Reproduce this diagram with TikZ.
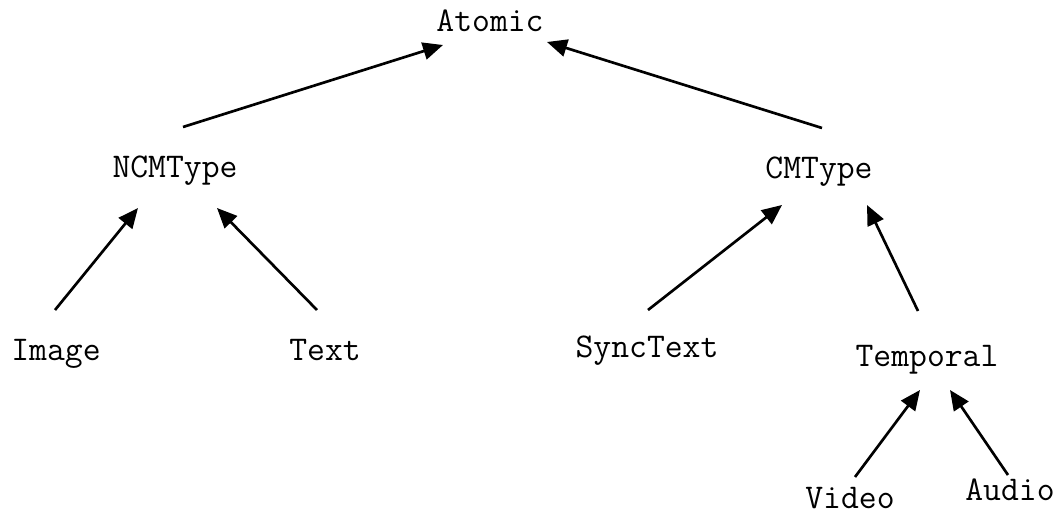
\documentclass[tikz,border=0pt]{standalone}
\usepackage{fontspec}
\usepackage{tikz}
\usetikzlibrary{arrows.meta, positioning}
\tikzset{lbl/.style={anchor=base, inner sep=0pt, font=\ttfamily\fontsize{26}{30}\selectfont},
  arr/.style={line width=2pt, -{Triangle[length=15pt, width=13pt]}}}

\begin{document}
\begin{tikzpicture}[x=0.75pt, y=-0.75pt]
\useasboundingbox (0,0) rectangle (1056,516);
\path (490,32) node[lbl] (atomic) {Atomic};
\path (175,178) node[lbl] (ncm) {NCMType};
\path (819,179) node[lbl] (cm) {CMType};
\path (56,360) node[lbl] (image) {Image};
\path (325,360) node[lbl] (text) {Text};
\path (647,358) node[lbl] (sync) {SyncText};
\path (927,367) node[lbl] (temporal) {Temporal};
\path (850,508) node[lbl] (video) {Video};
\path (1010,500) node[lbl] (audio) {Audio};
\path[draw][arr] ([shift={(8,-51)}]ncm.base) -- ([shift={(-47,13)}]atomic.base);
\path[draw][arr] ([shift={(3,-51)}]cm.base) -- ([shift={(57,10)}]atomic.base);
\path[draw][arr] ([shift={(-1,-50)}]image.base) -- ([shift={(-37,30)}]ncm.base);
\path[draw][arr] ([shift={(-8,-50)}]text.base) -- ([shift={(42,30)}]ncm.base);
\path[draw][arr] ([shift={(1,-48)}]sync.base) -- ([shift={(-37,26)}]cm.base);
\path[draw][arr] ([shift={(-9,-56)}]temporal.base) -- ([shift={(48,26)}]cm.base);
\path[draw][arr] ([shift={(5,-31)}]video.base) -- ([shift={(-7,23)}]temporal.base);
\path[draw][arr] ([shift={(-2,-25)}]audio.base) -- ([shift={(23,23)}]temporal.base);
\end{tikzpicture}
\end{document}
